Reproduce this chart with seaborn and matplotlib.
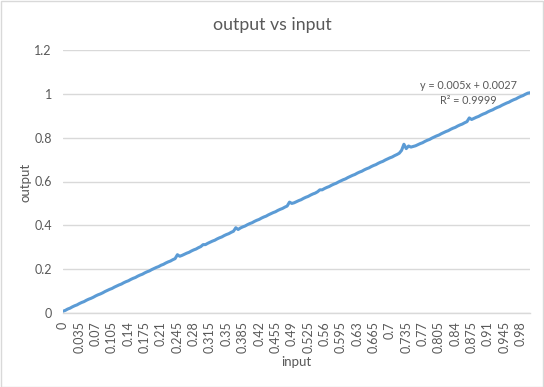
import numpy as np
import pandas as pd
import matplotlib
matplotlib.use("Agg")
import matplotlib.pyplot as plt
import seaborn as sns
from matplotlib.patches import Rectangle

# input categories (0 to 1 in steps of 0.005)
inputs = [
    0, 0.005, 0.01, 0.015, 0.02, 0.025, 0.03, 0.035, 0.04, 0.045,
    0.05, 0.055, 0.06, 0.065, 0.07, 0.075, 0.08, 0.085, 0.09, 0.095,
    0.1, 0.105, 0.11, 0.115, 0.12, 0.125, 0.13, 0.135, 0.14, 0.145,
    0.15, 0.155, 0.16, 0.165, 0.17, 0.175, 0.18, 0.185, 0.19, 0.195,
    0.2, 0.205, 0.21, 0.215, 0.22, 0.225, 0.23, 0.235, 0.24, 0.245,
    0.25, 0.255, 0.26, 0.265, 0.27, 0.275, 0.28, 0.285, 0.29, 0.295,
    0.3, 0.305, 0.31, 0.315, 0.32, 0.325, 0.33, 0.335, 0.34, 0.345,
    0.35, 0.355, 0.36, 0.365, 0.37, 0.375, 0.38, 0.385, 0.39, 0.395,
    0.4, 0.405, 0.41, 0.415, 0.42, 0.425, 0.43, 0.435, 0.44, 0.445,
    0.45, 0.455, 0.46, 0.465, 0.47, 0.475, 0.48, 0.485, 0.49, 0.495,
    0.5, 0.505, 0.51, 0.515, 0.52, 0.525, 0.53, 0.535, 0.54, 0.545,
    0.55, 0.555, 0.56, 0.565, 0.57, 0.575, 0.58, 0.585, 0.59, 0.595,
    0.6, 0.605, 0.61, 0.615, 0.62, 0.625, 0.63, 0.635, 0.64, 0.645,
    0.65, 0.655, 0.66, 0.665, 0.67, 0.675, 0.68, 0.685, 0.69, 0.695,
    0.7, 0.705, 0.71, 0.715, 0.72, 0.725, 0.73, 0.735, 0.74, 0.745,
    0.75, 0.755, 0.76, 0.765, 0.77, 0.775, 0.78, 0.785, 0.79, 0.795,
    0.8, 0.805, 0.81, 0.815, 0.82, 0.825, 0.83, 0.835, 0.84, 0.845,
    0.85, 0.855, 0.86, 0.865, 0.87, 0.875, 0.88, 0.885, 0.89, 0.895,
    0.9, 0.905, 0.91, 0.915, 0.92, 0.925, 0.93, 0.935, 0.94, 0.945,
    0.95, 0.955, 0.96, 0.965, 0.97, 0.975, 0.98, 0.985, 0.99, 0.995,
    1.0,
]

outputs = [
    0.008, 0.012, 0.018, 0.022, 0.028, 0.033, 0.037, 0.043, 0.048, 0.052,
    0.058, 0.063, 0.067, 0.072, 0.078, 0.083, 0.087, 0.092, 0.098, 0.103,
    0.108, 0.112, 0.118, 0.123, 0.128, 0.132, 0.138, 0.143, 0.147, 0.153,
    0.158, 0.162, 0.168, 0.173, 0.177, 0.183, 0.188, 0.192, 0.198, 0.203,
    0.208, 0.212, 0.218, 0.222, 0.228, 0.233, 0.237, 0.243, 0.248, 0.266,
    0.259, 0.263, 0.268, 0.273, 0.277, 0.283, 0.288, 0.292, 0.298, 0.303,
    0.312, 0.312, 0.318, 0.323, 0.328, 0.332, 0.338, 0.343, 0.347, 0.353,
    0.358, 0.362, 0.368, 0.373, 0.389, 0.381, 0.388, 0.393, 0.397, 0.403,
    0.408, 0.412, 0.418, 0.423, 0.427, 0.433, 0.438, 0.442, 0.448, 0.453,
    0.458, 0.462, 0.468, 0.473, 0.477, 0.483, 0.488, 0.506, 0.500, 0.503,
    0.508, 0.513, 0.517, 0.523, 0.528, 0.532, 0.538, 0.543, 0.547, 0.553,
    0.562, 0.562, 0.568, 0.573, 0.577, 0.583, 0.588, 0.592, 0.598, 0.603,
    0.608, 0.612, 0.618, 0.623, 0.628, 0.632, 0.638, 0.643, 0.647, 0.653,
    0.658, 0.662, 0.668, 0.673, 0.677, 0.683, 0.688, 0.692, 0.698, 0.703,
    0.708, 0.712, 0.718, 0.723, 0.729, 0.742, 0.770, 0.750, 0.762, 0.757,
    0.760, 0.763, 0.768, 0.773, 0.777, 0.783, 0.788, 0.792, 0.798, 0.803,
    0.808, 0.812, 0.818, 0.823, 0.828, 0.832, 0.838, 0.843, 0.847, 0.853,
    0.858, 0.862, 0.868, 0.873, 0.890, 0.883, 0.888, 0.893, 0.897, 0.903,
    0.908, 0.912, 0.918, 0.923, 0.927, 0.933, 0.938, 0.942, 0.948, 0.953,
    0.958, 0.962, 0.968, 0.973, 0.977, 0.983, 0.988, 0.992, 0.998, 1.003,
    1.005,
]

y_ticks = [0, 0.2, 0.4, 0.6, 0.8, 1, 1.2]
label_step = 7
trend_text = "y = 0.005x + 0.0027\nR² = 0.9999"

TEXT = "#595959"
GRID = "#D9D9D9"
BLUE = "#5B9BD5"

sns.set_theme(style="white")
plt.rcParams["font.family"] = ["Lato", "DejaVu Sans"]

df = pd.DataFrame({"pos": range(len(inputs)), "input": inputs, "output": outputs})

fig = plt.figure(figsize=(5.44, 3.87), dpi=100)
ax = fig.add_axes([63 / 544, 1 - 313 / 387, (530 - 63) / 544, (313 - 50) / 387])

sns.lineplot(data=df, x="pos", y="output", ax=ax, color=BLUE, linewidth=2.2)

ax.set_xlim(0, len(inputs) - 1)
ax.set_ylim(0, 1.2)
ax.set_yticks(y_ticks)
ax.set_yticklabels([f"{v:g}" for v in y_ticks])
ax.yaxis.grid(True, color=GRID, linewidth=1)
ax.set_axisbelow(True)

xt = df["pos"][::label_step]
ax.set_xticks(xt)
ax.set_xticklabels([f"{v:g}" for v in df["input"][::label_step]], rotation=90)

ax.tick_params(axis="both", length=0, labelsize=9, colors=TEXT)
ax.tick_params(axis="y", pad=8)
ax.tick_params(axis="x", pad=6)

for side in ["top", "right", "left"]:
    ax.spines[side].set_visible(False)
ax.spines["bottom"].set_color(GRID)
ax.spines["bottom"].set_linewidth(1)

ax.set_xlabel("")
ax.set_ylabel("")
fig.text(296 / 544, 1 - 362 / 387, "input", ha="center", va="center", fontsize=9.5, color=TEXT)
fig.text(26 / 544, 1 - 182 / 387, "output", ha="center", va="center", rotation=90, fontsize=9.5, color=TEXT)
fig.text(272 / 544, 1 - 25 / 387, "output vs input", ha="center", va="center", fontsize=12.8, color=TEXT)

ax.text(468 / 544, 1 - 93 / 387, trend_text, transform=fig.transFigure, ha="center", va="center",
        fontsize=7.8, color=TEXT, linespacing=1.35, multialignment="center")

fig.patches.append(Rectangle((0.001, 0.001), 0.997, 0.997, transform=fig.transFigure,
                             fill=False, edgecolor=GRID, linewidth=1))

fig.savefig("out.png", dpi=100)
